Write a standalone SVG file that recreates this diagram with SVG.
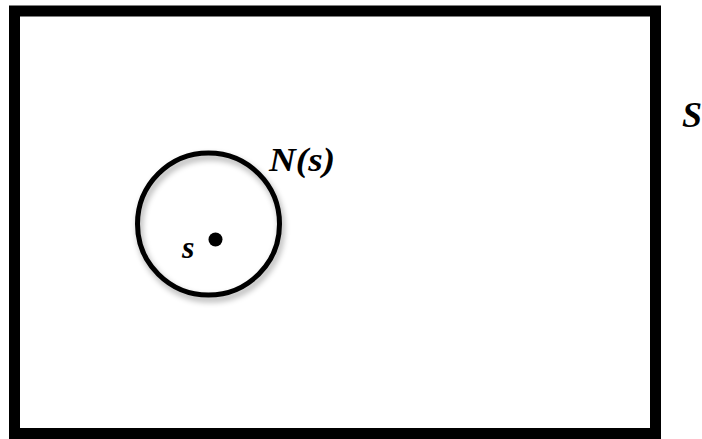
<svg xmlns="http://www.w3.org/2000/svg" width="702" height="439" viewBox="0 0 702 439">
<defs>
<style>
.lbl{font-family:"Liberation Serif","Times New Roman",serif;font-weight:bold;font-style:italic;fill:#000}
</style>
<filter id="sh" x="-30%" y="-30%" width="160%" height="160%">
<feGaussianBlur in="SourceAlpha" stdDeviation="3"/>
<feOffset dx="2" dy="4" result="b"/>
<feComponentTransfer><feFuncA type="linear" slope="0.35"/></feComponentTransfer>
<feMerge><feMergeNode/><feMergeNode in="SourceGraphic"/></feMerge>
</filter>
</defs>
<rect width="702" height="439" fill="#fff"/>
<g id="space">
<rect x="14.5" y="11" width="641" height="422.5" fill="#fff" stroke="#000" stroke-width="11"/>
<text class="lbl" x="682" y="127" font-size="36">S</text>
</g>
<g id="neighborhood">
<circle cx="208.5" cy="224" r="71" fill="none" stroke="#000" stroke-width="5" filter="url(#sh)"/>
<text class="lbl" x="269" y="171" font-size="34" textLength="66" lengthAdjust="spacingAndGlyphs">N(s)</text>
</g>
<g id="point">
<circle cx="215.5" cy="239.5" r="7" fill="#000"/>
<text class="lbl" x="182" y="258" font-size="32">s</text>
</g>
<g id="connectors"/>
</svg>
